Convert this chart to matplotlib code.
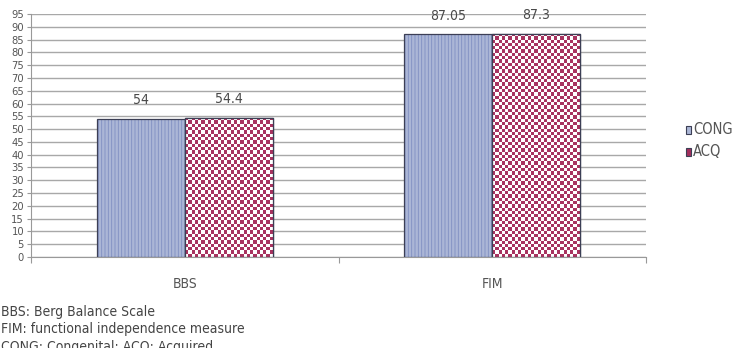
import numpy as np
import matplotlib.pyplot as plt
from matplotlib.patches import Rectangle

categories = ['BBS', 'FIM']
series = ['CONG', 'ACQ']
cong = [54, 87.05]
acq = [54.4, 87.3]
cong_labels = ['54', '87.05']
acq_labels = ['54.4', '87.3']
yticks = list(range(0, 100, 5))
notes = ['BBS: Berg Balance Scale',
         'FIM: functional independence measure',
         'CONG: Congenital; ACQ: Acquired']

plt.rcParams['font.family'] = ['DejaVu Sans']
plt.rcParams['font.stretch'] = 'condensed'
plt.rcParams['hatch.linewidth'] = 0.6

fig = plt.figure(figsize=(7.37, 3.48), dpi=100)
ax = fig.add_axes([31 / 737, 91 / 348, 615 / 737, 243 / 348])

x = np.arange(len(categories))
w = 0.286
b1 = ax.bar(x - w / 2, cong, w, color='#abb6d6', edgecolor='#3c3f55',
            hatch='|||||', linewidth=0.9, zorder=3)
for p in b1:
    p._hatch_color = (0.5, 0.56, 0.76, 1)
b2 = ax.bar(x + w / 2, acq, w, color='white', edgecolor='#3c3f55',
            linewidth=0.9, zorder=3)

ax.set_xlim(-0.5, 1.5)
ax.set_ylim(0, 95)
fig.canvas.draw()

# checkerboard fill for ACQ bars
def checker(bar, cell=3.3):
    x0, y0 = bar.get_x(), bar.get_y()
    x1, y1 = x0 + bar.get_width(), y0 + bar.get_height()
    p0 = ax.transData.transform((x0, y0))
    p1 = ax.transData.transform((x1, y1))
    nc = max(1, int(round((p1[0] - p0[0]) / cell)))
    nr = max(1, int(round((p1[1] - p0[1]) / cell)))
    grid = (np.add.outer(np.arange(nr), np.arange(nc)) % 2).astype(float)
    img = np.ones((nr, nc, 3))
    img[grid == 1] = [0.66, 0.2, 0.38]
    im = ax.imshow(img, extent=(x0, x1, y0, y1), aspect='auto',
                   interpolation='antialiased', zorder=3.5, origin='lower')
    im.set_clip_path(bar)
    r = Rectangle((x0, y0), x1 - x0, y1 - y0, fill=False,
                  edgecolor='#3c3f55', linewidth=0.9, zorder=4)
    ax.add_patch(r)

for p in b2:
    checker(p)
ax.set_xlim(-0.5, 1.5)
ax.set_ylim(0, 95)

for i in range(len(categories)):
    ax.text(x[i] - w / 2, cong[i] + 4.5, cong_labels[i], ha='center', va='bottom',
            fontsize=10, color='#4a4a4a')
    ax.text(x[i] + w / 2, acq[i] + 4.5, acq_labels[i], ha='center', va='bottom',
            fontsize=10, color='#4a4a4a')

ax.set_yticks(yticks)
ax.set_yticklabels([str(t) for t in yticks], fontsize=8, color='#555555')
ax.yaxis.grid(True, color='#a8a8a8', linewidth=1.0, zorder=0)
ax.set_axisbelow(True)
ax.tick_params(axis='y', length=3, color='#999999', pad=2)

ax.set_xticks([-0.5, 0.5, 1.5])
ax.set_xticklabels([])
ax.tick_params(axis='x', length=4, color='#999999', direction='out')
for i, c in enumerate(categories):
    ax.text(x[i], -0.11, c, transform=ax.get_xaxis_transform(), ha='center',
            va='center', fontsize=10, color='#555555')

for s in ['top', 'right']:
    ax.spines[s].set_visible(False)
for s in ['left', 'bottom']:
    ax.spines[s].set_color('#999999')

# legend
lg = fig.add_axes([0, 0, 1, 1], zorder=-1)
lg.axis('off')
lg.set_xlim(0, 737)
lg.set_ylim(348, 0)
lg.add_patch(Rectangle((686, 126), 5, 8, facecolor='#abb6d6', edgecolor='#3c3f55',
                       hatch='|||', linewidth=0.8))
lg.add_patch(Rectangle((686, 148), 5, 8, facecolor='#a32e5c', edgecolor='#3c3f55',
                       linewidth=0.8))
lg.text(693, 130, series[0], va='center', fontsize=10.5, color='#555555')
lg.text(693, 152, series[1], va='center', fontsize=10.5, color='#555555')

for k, n in enumerate(notes):
    fig.text(0.001, (348 - 312 - 17.5 * k) / 348, n, va='center', ha='left',
             fontsize=10, color='#444444')

fig.savefig('out.png', dpi=100)
